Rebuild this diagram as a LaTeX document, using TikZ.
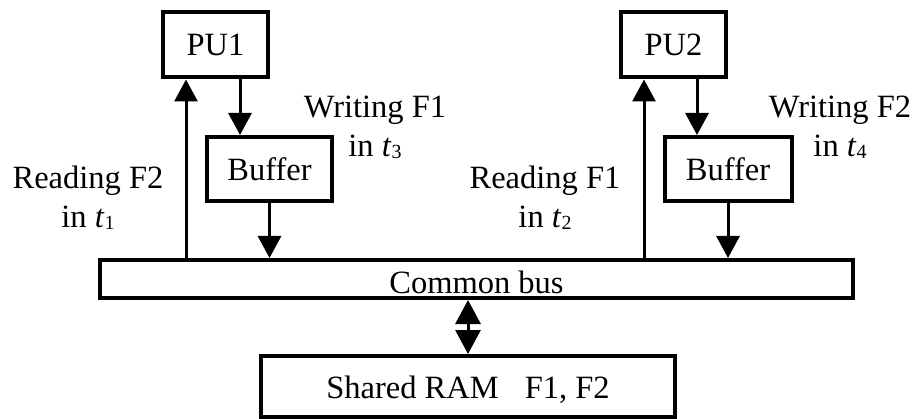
\documentclass[tikz,border=0pt]{standalone}
\usepackage{fontspec}
\setmainfont{Liberation Serif}
\usetikzlibrary{arrows.meta}

% italic variable with a small, slightly lowered index
\newcommand\tsub[1]{\textit{t}\raisebox{-2pt}{\fontsize{20pt}{20pt}\selectfont #1}}

\begin{document}
\begin{tikzpicture}[x=1pt, y=-1pt,
  every node/.style={font=\fontsize{32.5pt}{39pt}\selectfont},
  unitbox/.style={draw, line width=4pt, inner sep=0pt, text depth=0pt},
  lbl/.style={align=center, inner sep=0pt, anchor=base},
  arr/.style={line width=3pt, -{Triangle[width=23pt, length=22pt]}},
  dblarr/.style={line width=3pt, {Triangle[width=25pt, length=24pt]}-{Triangle[width=25pt, length=24pt]}}]

  \useasboundingbox (0,0) rectangle (912,419);

  % processing units and their write buffers
  \node[unitbox, minimum width=105pt, minimum height=65pt, text height=22pt] (pu1) at (215.5,45) {PU1};
  \node[unitbox, minimum width=105pt, minimum height=65pt, text height=22pt] (pu2) at (673.5,45) {PU2};
  \node[unitbox, minimum width=125pt, minimum height=64pt, text height=24pt] (buf1) at (269.5,169) {Buffer};
  \node[unitbox, minimum width=127pt, minimum height=64pt, text height=24pt] (buf2) at (728,169) {Buffer};

  % bus and memory
  \node[unitbox, minimum width=753pt, minimum height=38pt, text height=30pt] (bus) at (476.5,279) {Common bus};
  \node[unitbox, minimum width=414pt, minimum height=61pt, text height=23pt] (ram) at (468,386.5) {Shared RAM\hspace{26pt}F1, F2};

  % ports on the processing units
  \coordinate (p1in)  at ([xshift=25pt]pu1.south west);
  \coordinate (p1out) at ([xshift=79pt]pu1.south west);
  \coordinate (p2in)  at ([xshift=25pt]pu2.south west);
  \coordinate (p2out) at ([xshift=78pt]pu2.south west);

  % connectors
  \draw[arr] (p1in |- bus.north) -- (p1in);
  \draw[arr] (p1out) -- (p1out |- buf1.north);
  \draw[arr] (buf1.south) -- (buf1.south |- bus.north);
  \draw[arr] (p2in |- bus.north) -- (p2in);
  \draw[arr] (p2out) -- (p2out |- buf2.north);
  \draw[arr] (buf2.south) -- (buf2.south |- bus.north);
  \draw[dblarr] (ram.north |- bus.south) -- (ram.north);

  % timing labels (anchored at the baseline of their last line)
  \node[lbl] (w1) at (375,157) {Writing F1\\in \tsub{3}};
  \node[lbl] (r2) at (88,228) {Reading F2\\in \tsub{1}};
  \node[lbl] (r1) at (545,228) {Reading F1\\in \tsub{2}};
  \node[lbl] (w2) at (840,157) {Writing F2\\in \tsub{4}};
\end{tikzpicture}
\end{document}
